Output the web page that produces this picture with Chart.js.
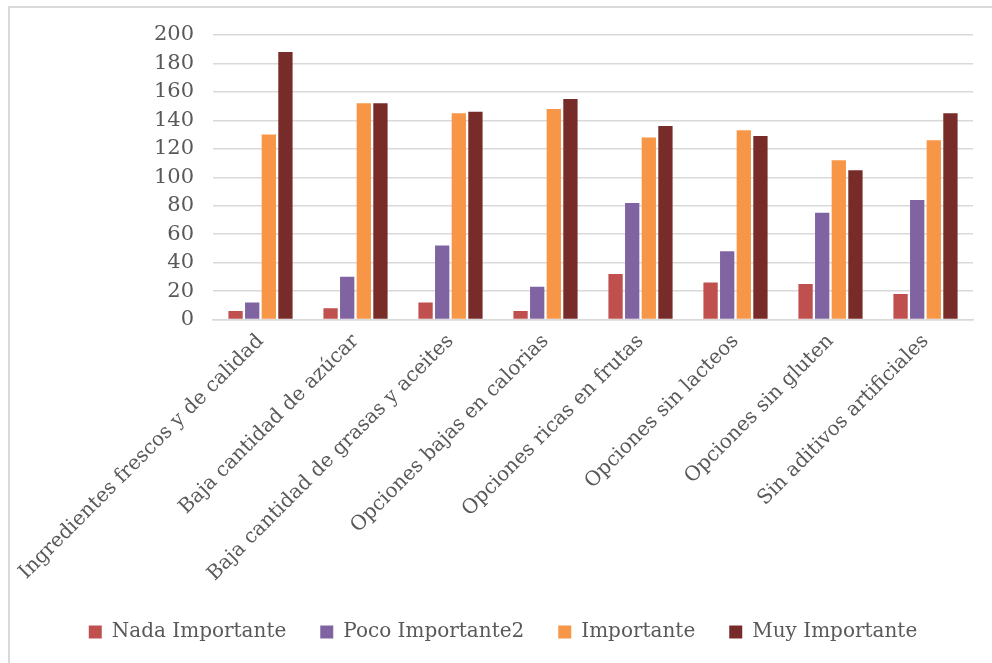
<!DOCTYPE html>
<html>
<head>
<meta charset="utf-8">
<script src="https://cdn.jsdelivr.net/npm/chart.js@4"></script>
<style>
  html, body { margin: 0; padding: 0; background: #fff; }
  #frame {
    position: absolute; left: 8px; top: 6px; width: 1000px; height: 700px;
    border-left: 2px solid #d9d9d9; border-top: 2px solid #d9d9d9;
  }
  #wrap { position: absolute; left: 0; top: 0; width: 992px; height: 663px; }
</style>
</head>
<body>
<div id="frame"></div>
<div id="wrap"><canvas id="my-chart"></canvas></div>
<script>
let labels = ["Ingredientes frescos y de calidad", "Baja cantidad de azúcar", "Baja cantidad de grasas y aceites",
  "Opciones bajas en calorias", "Opciones ricas en frutas", "Opciones sin lacteos", "Opciones sin gluten",
  "Sin aditivos artificiales"];

let nada = [6, 8, 12, 6, 32, 26, 25, 18];
let poco = [12, 30, 52, 23, 82, 48, 75, 84];
let importante = [130, 152, 145, 148, 128, 133, 112, 126];
let muy = [188, 152, 146, 155, 136, 129, 105, 145];

let yTicks = [0, 20, 40, 60, 80, 100, 120, 140, 160, 180, 200];

let serif = "'DejaVu Serif', serif";
let font = { family: serif, size: 20 };
Chart.defaults.color = '#595959';

let ctx = document.getElementById('my-chart').getContext('2d');

let chart = new Chart(ctx, {
    type: 'bar',
    data: {
        labels: labels,
        datasets: [
            { label: 'Nada Importante', data: nada, backgroundColor: '#c0504d' },
            { label: 'Poco Importante2', data: poco, backgroundColor: '#8064a2' },
            { label: 'Importante', data: importante, backgroundColor: '#f79646' },
            { label: 'Muy Importante', data: muy, backgroundColor: '#772c2a' }
        ]
    },
    options: {
        responsive: true,
        maintainAspectRatio: false,
        animation: false,
        datasets: {
            bar: { barPercentage: 0.86, categoryPercentage: 0.7 }
        },
        layout: {
            padding: { left: 33, right: 19, top: 35, bottom: 11 }
        },
        plugins: {
            legend: {
                position: 'bottom',
                labels: {
                    font: font,
                    boxWidth: 13,
                    boxHeight: 13,
                    padding: 34
                }
            },
            tooltip: { enabled: false }
        },
        scales: {
            x: {
                grid: { display: false },
                border: { color: '#d9d9d9', width: 1.5 },
                ticks: { font: font, minRotation: 45, maxRotation: 45, padding: 2 }
            },
            y: {
                min: 0,
                max: 200,
                afterBuildTicks: (axis) => { axis.ticks = yTicks.map(v => ({ value: v })); },
                // wide y axis so the plot starts clear of the first rotated label
                afterFit: (axis) => { axis.width = 180; },
                grid: { color: '#d9d9d9', lineWidth: 1.5, drawTicks: false },
                border: { display: false },
                ticks: { font: { family: serif, size: 21 }, padding: 19 }
            }
        }
    }
});
</script>
</body>
</html>
